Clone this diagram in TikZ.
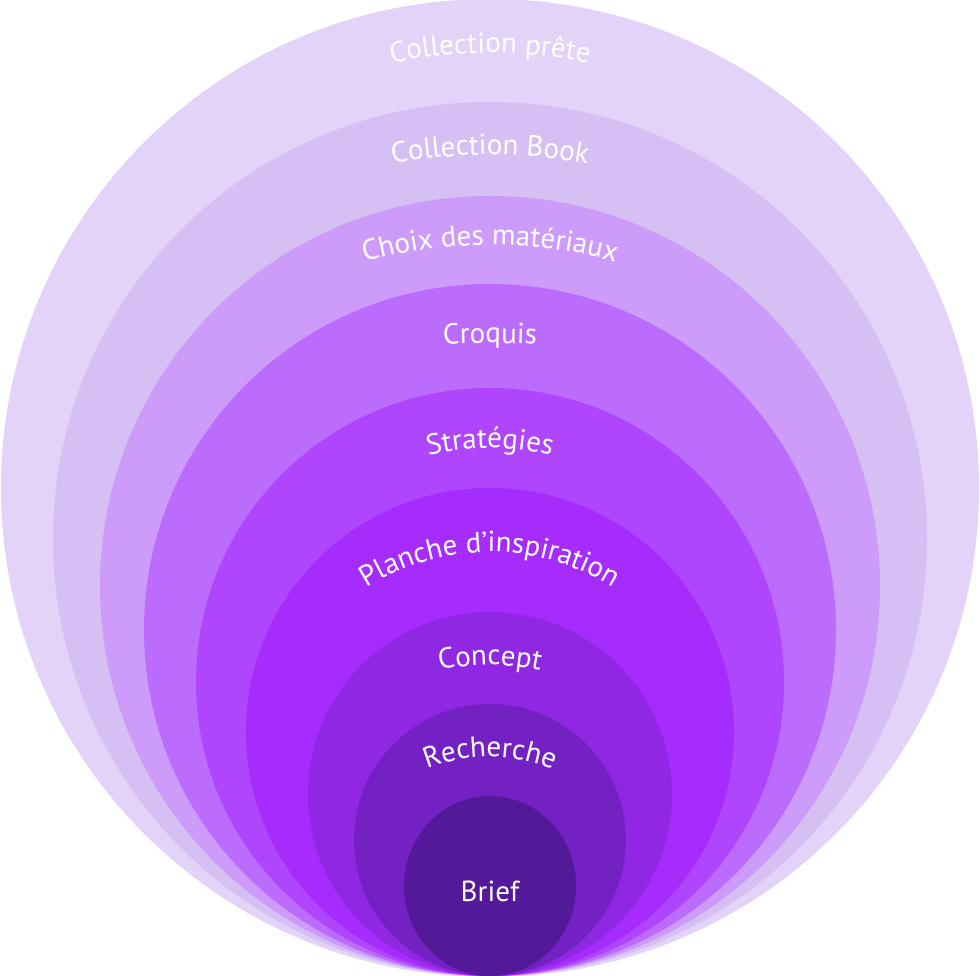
\documentclass[tikz,border=0pt]{standalone}
\usepackage{fontspec}
\setmainfont{PT Sans}
\usepackage{xcolor}
\usepackage{tikz}
\usetikzlibrary{decorations.text}
\definecolor{ringA}{HTML}{E3D3F8}
\definecolor{ringB}{HTML}{D6BFF3}
\definecolor{ringC}{HTML}{CD9BFA}
\definecolor{ringD}{HTML}{BB6CFC}
\definecolor{ringE}{HTML}{AF45FC}
\definecolor{ringF}{HTML}{A52CFD}
\definecolor{ringG}{HTML}{8F27E3}
\definecolor{ringH}{HTML}{7421C4}
\definecolor{ringI}{HTML}{541999}
\newcommand{\ringfont}{\fontsize{29}{32}\selectfont}
\tikzset{
    ring/.style={fill=#1, draw=none},
    arclabel/.style={decorate, decoration={text along path, text align=center,
                     text color=white, text={|\ringfont|#1}}},
    flatlabel/.style={text=white, font=\ringfont, anchor=base},
}

\begin{document}
\begin{tikzpicture}[x=1pt, y=1pt]
    \useasboundingbox (0,0) rectangle (980,976);
    % rings, all touching at the bottom
    \path[ring=ringA] (490,488) circle[radius=489pt];
    \path[ring=ringB] (490,437) circle[radius=437pt];
    \path[ring=ringC] (490,390) circle[radius=390pt];
    \path[ring=ringD] (490,346) circle[radius=346pt];
    \path[ring=ringE] (490,294) circle[radius=294pt];
    \path[ring=ringF] (490,244) circle[radius=244pt];
    \path[ring=ringG] (490,182) circle[radius=182pt];
    \path[ring=ringH] (490,136) circle[radius=136pt];
    \path[ring=ringI] (490,90) ellipse[x radius=86pt, y radius=90pt];
    % labels bent over the top of each ring
    \path[arclabel={Collection prête}] ([shift={(150:485pt)}]490,438) arc[start angle=150, end angle=30, radius=485pt];
    \path[arclabel={Collection Book}] ([shift={(150:550pt)}]490,271) arc[start angle=150, end angle=30, radius=550pt];
    \path[arclabel={Choix des matériaux}] ([shift={(150:470pt)}]490,261) arc[start angle=150, end angle=30, radius=470pt];
    \path[arclabel={Croquis}] ([shift={(120:800pt)}]490,-167) arc[start angle=120, end angle=60, radius=800pt];
    \path[arclabel={Stratégies}] ([shift={(150:260pt)}]490,268) arc[start angle=150, end angle=30, radius=260pt];
    \path[arclabel={Planche d’inspiration}] ([shift={(150:230pt)}]490,194) arc[start angle=150, end angle=30, radius=230pt];
    \path[arclabel={Concept}] ([shift={(150:260pt)}]490,51) arc[start angle=150, end angle=30, radius=260pt];
    \path[arclabel={Recherche}] ([shift={(150:170pt)}]490,49) arc[start angle=150, end angle=30, radius=170pt];
    \node[flatlabel] (brief) at (490,74) {Brief};
\end{tikzpicture}
\end{document}
